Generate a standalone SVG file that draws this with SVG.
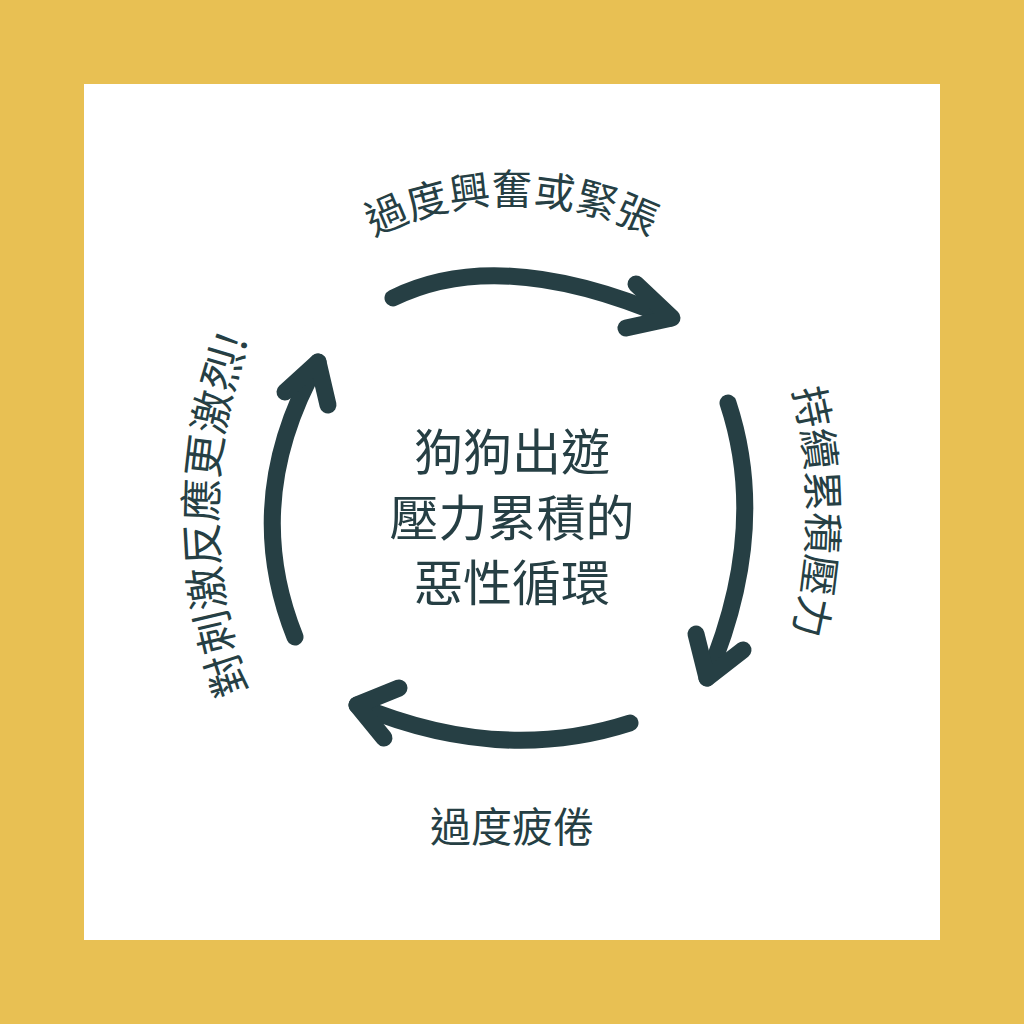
<svg xmlns="http://www.w3.org/2000/svg" width="1024" height="1024" viewBox="0 0 1024 1024">
<style>
.t{font-family:"Noto Sans CJK TC","Noto Sans CJK SC",sans-serif;fill:#263F44;font-size:41px}
.c{font-size:49px;text-anchor:middle}
.a{fill:none;stroke:#263F44;stroke-width:17;stroke-linecap:round;stroke-linejoin:round}
</style>
<defs>
<path id="pt" d="M 204 512 A 308 308 0 0 1 820 512"/>
<path id="pr" d="M 708 212 A 500 500 0 0 1 708 812"/>
<path id="pl" d="M 317 815 A 500 500 0 0 1 317 215"/>
</defs>
<rect width="1024" height="1024" fill="#E8C053"/>
<rect x="84" y="84" width="856" height="856" fill="#ffffff"/>
<g id="center"><text class="t c" x="512" y="470">狗狗出遊</text><text class="t c" x="512" y="536">壓力累積的</text><text class="t c" x="512" y="601">惡性循環</text></g>
<g id="top"><text class="t"><textPath href="#pt" startOffset="50%" text-anchor="middle">過度興奮或緊張</textPath></text></g>
<g id="right"><text class="t"><textPath href="#pr" startOffset="50%" text-anchor="middle">持續累積壓力</textPath></text></g>
<g id="bottom"><text class="t" x="512" y="842" text-anchor="middle">過度疲倦</text></g>
<g id="left"><text class="t" style="font-size:43px"><textPath href="#pl" startOffset="50%" text-anchor="middle">對刺激反應更激烈!</textPath></text></g>
<g id="connectors">
<path class="a" d="M 393 298 Q 500 245 670 318"/><path class="a" d="M 636 284 L 672 318 L 626 328"/>
<path class="a" d="M 728 403 Q 770 530 707 678"/><path class="a" d="M 696 634 L 707 678 L 743 650"/>
<path class="a" d="M 630 723 Q 500 765 357 705"/><path class="a" d="M 399 688 L 357 705 L 384 738"/>
<path class="a" d="M 295 637 Q 240 500 318 362"/><path class="a" d="M 285 392 L 318 362 L 328 405"/>
</g>
</svg>
